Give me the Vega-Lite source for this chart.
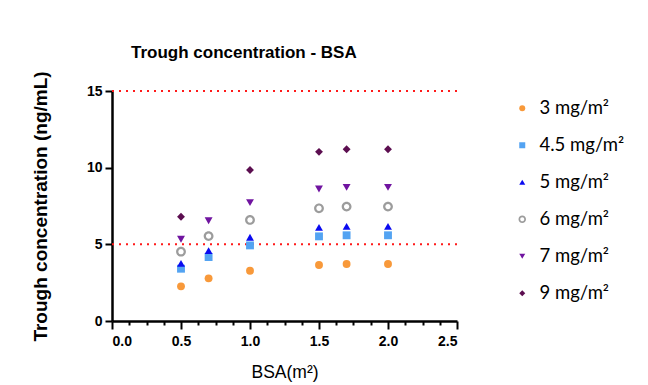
{
  "$schema": "https://vega.github.io/schema/vega-lite/v6.json",
  "width": 345,
  "height": 230,
  "autosize": {"type": "none"},
  "padding": {"left": 112, "top": 91, "right": 191, "bottom": 64},
  "background": "white",
  "config": {
    "view": {"stroke": null},
    "font": "Liberation Sans",
    "legend": {
      "orient": "none", "legendX": 401, "legendY": 8,
      "labelFont": "Lato", "labelFontSize": 18.5, "labelFontWeight": "normal", "labelColor": "black",
      "labelOffset": 8, "symbolSize": 36, "symbolStrokeWidth": 0, "rowPadding": 18, "labelLimit": 200
    }
  },
  "title": {
    "text": "Trough concentration - BSA",
    "font": "Liberation Sans",
    "fontSize": 17,
    "fontWeight": "bold",
    "color": "black",
    "anchor": "start",
    "frame": "group",
    "dx": 19,
    "offset": 9
  },
  "layer": [
    {
      "data": {"values": [{"ref": 5}, {"ref": 15}]},
      "mark": {"type": "rule", "color": "#FF1A1A", "strokeWidth": 2, "strokeDash": [2, 5]},
      "encoding": {
        "y": {"field": "ref", "type": "quantitative", "scale": {"domain": [0, 15], "nice": false}}
      }
    },
    {
      "data": {
        "values": [
          {"bsa": 0.5, "conc": 2.26, "dose": "3 mg/m²"},
          {"bsa": 0.7, "conc": 2.78, "dose": "3 mg/m²"},
          {"bsa": 1.0, "conc": 3.28, "dose": "3 mg/m²"},
          {"bsa": 1.5, "conc": 3.65, "dose": "3 mg/m²"},
          {"bsa": 1.7, "conc": 3.72, "dose": "3 mg/m²"},
          {"bsa": 2.0, "conc": 3.72, "dose": "3 mg/m²"},
          {"bsa": 0.5, "conc": 3.41, "dose": "4.5 mg/m²"},
          {"bsa": 0.7, "conc": 4.17, "dose": "4.5 mg/m²"},
          {"bsa": 1.0, "conc": 4.93, "dose": "4.5 mg/m²"},
          {"bsa": 1.5, "conc": 5.52, "dose": "4.5 mg/m²"},
          {"bsa": 1.7, "conc": 5.59, "dose": "4.5 mg/m²"},
          {"bsa": 2.0, "conc": 5.59, "dose": "4.5 mg/m²"},
          {"bsa": 0.5, "conc": 3.76, "dose": "5 mg/m²"},
          {"bsa": 0.7, "conc": 4.59, "dose": "5 mg/m²"},
          {"bsa": 1.0, "conc": 5.46, "dose": "5 mg/m²"},
          {"bsa": 1.5, "conc": 6.11, "dose": "5 mg/m²"},
          {"bsa": 1.7, "conc": 6.17, "dose": "5 mg/m²"},
          {"bsa": 2.0, "conc": 6.17, "dose": "5 mg/m²"},
          {"bsa": 0.5, "conc": 4.52, "dose": "6 mg/m²"},
          {"bsa": 0.7, "conc": 5.54, "dose": "6 mg/m²"},
          {"bsa": 1.0, "conc": 6.59, "dose": "6 mg/m²"},
          {"bsa": 1.5, "conc": 7.35, "dose": "6 mg/m²"},
          {"bsa": 1.7, "conc": 7.46, "dose": "6 mg/m²"},
          {"bsa": 2.0, "conc": 7.46, "dose": "6 mg/m²"},
          {"bsa": 0.5, "conc": 5.33, "dose": "7 mg/m²"},
          {"bsa": 0.7, "conc": 6.54, "dose": "7 mg/m²"},
          {"bsa": 1.0, "conc": 7.72, "dose": "7 mg/m²"},
          {"bsa": 1.5, "conc": 8.61, "dose": "7 mg/m²"},
          {"bsa": 1.7, "conc": 8.72, "dose": "7 mg/m²"},
          {"bsa": 2.0, "conc": 8.72, "dose": "7 mg/m²"},
          {"bsa": 0.5, "conc": 6.80, "dose": "9 mg/m²"},
          {"bsa": 1.0, "conc": 9.85, "dose": "9 mg/m²"},
          {"bsa": 1.5, "conc": 11.03, "dose": "9 mg/m²"},
          {"bsa": 1.7, "conc": 11.2, "dose": "9 mg/m²"},
          {"bsa": 2.0, "conc": 11.2, "dose": "9 mg/m²"}
        ]
      },
      "mark": {"type": "point", "filled": true, "size": 62, "strokeWidth": 0, "opacity": 1},
      "encoding": {
        "x": {
          "field": "bsa", "type": "quantitative",
          "scale": {"domain": [0, 2.5], "nice": false, "zero": true},
          "axis": {
            "title": "BSA(m²)",
            "titleFont": "Liberation Sans",
            "titleFontSize": 17.5,
            "titleFontWeight": "normal",
            "titleColor": "black",
            "titlePadding": 15,
            "values": [0, 0.125, 0.25, 0.375, 0.5, 0.625, 0.75, 0.875, 1, 1.125, 1.25, 1.375, 1.5, 1.625, 1.75, 1.875, 2, 2.125, 2.25, 2.375, 2.5],
            "labelExpr": "abs(datum.value * 2 - round(datum.value * 2)) < 0.001 ? format(datum.value, '.1f') : ''",
            "labelOverlap": false,
            "labelFont": "Liberation Sans",
            "labelFontSize": 14,
            "labelFontWeight": "bold",
            "labelColor": "black",
            "labelPadding": 5,
            "grid": false,
            "domainColor": "black",
            "domainWidth": 2.5,
            "tickColor": "black",
            "tickWidth": 2,
            "tickSize": {"condition": {"test": "abs(datum.value * 2 - round(datum.value * 2)) < 0.001", "value": 8}, "value": 4}
          }
        },
        "y": {
          "field": "conc", "type": "quantitative",
          "scale": {"domain": [0, 15], "nice": false},
          "axis": {
            "title": "Trough concentration (ng/mL)",
            "titleFont": "Liberation Sans",
            "titleFontSize": 19,
            "titleFontWeight": "bold",
            "titleColor": "black",
            "titlePadding": 36,
            "values": [0, 5, 10, 15],
            "format": "d",
            "labelFont": "Liberation Sans",
            "labelFontSize": 14,
            "labelFontWeight": "bold",
            "labelColor": "black",
            "labelPadding": 3,
            "grid": false,
            "domainColor": "black",
            "domainWidth": 2.5,
            "tickColor": "black",
            "tickWidth": 2,
            "tickSize": 7
          }
        },
        "shape": {
          "field": "dose", "type": "nominal", "title": null,
          "scale": {"range": ["circle", "square", "triangle-up", "M -1.25 0 A 1.25 1.25 0 1 0 1.25 0 A 1.25 1.25 0 1 0 -1.25 0 Z M -0.68 0 A 0.68 0.68 0 1 1 0.68 0 A 0.68 0.68 0 1 1 -0.68 0 Z", "triangle-down", "diamond"]}
        },
        "color": {
          "field": "dose", "type": "nominal", "title": null,
          "scale": {"range": ["#F8993A", "#53A3F2", "#0A0AF0", "#9C9C9C", "#7014A0", "#5C0E50"]}
        }
      }
    }
  ]
}
